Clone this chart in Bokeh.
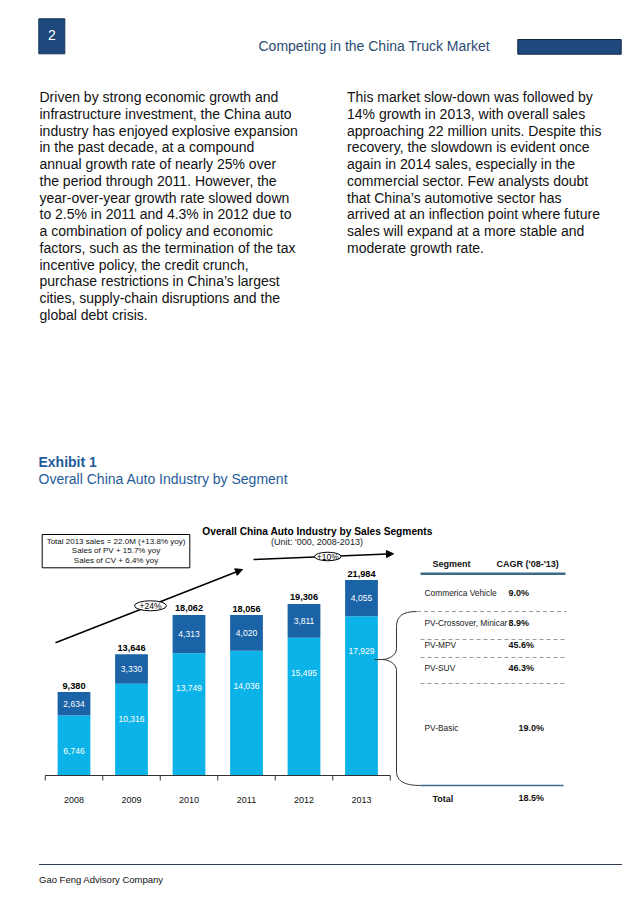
from bokeh.plotting import figure
from bokeh.models import Range1d, ColumnDataSource, Arrow, NormalHead
from bokeh.core.properties import value
from bokeh.embed import file_html
from bokeh.resources import INLINE

# ---------------- data ----------------
years = [2008, 2009, 2010, 2011, 2012, 2013]
pv_sales = [6746, 10316, 13749, 14036, 15495, 17929]   # passenger vehicles ('000)
cv_sales = [2634, 3330, 4313, 4020, 3811, 4055]        # commercial vehicles ('000)
segments = ["Commerica  Vehicle", "PV-Crossover, Minicar", "PV-MPV", "PV-SUV", "PV-Basic"]
segment_cagr = ["9.0%", "8.9%", "45.6%", "46.3%", "19.0%"]
total_cagr = "18.5%"
growth_labels = ["+24%", "+10%"]
note_lines = ["Total 2013 sales = 22.0M (+13.8% yoy)",
              "Sales of PV + 15.7% yoy",
              "Sales of CV + 6.4% yoy"]
left_para = [
    "Driven by strong economic growth and",
    "infrastructure investment, the China auto",
    "industry has enjoyed explosive expansion",
    "in the past decade, at a compound",
    "annual growth rate of nearly 25% over",
    "the period through 2011.  However, the",
    "year-over-year growth rate slowed down",
    "to 2.5% in 2011 and 4.3% in 2012 due to",
    "a combination of policy and economic",
    "factors, such as the termination of the tax",
    "incentive policy, the credit crunch,",
    "purchase restrictions in China\u2019s largest",
    "cities, supply-chain disruptions and the",
    "global debt crisis.",
]
right_para = [
    "This market slow-down was followed by",
    "14% growth in 2013, with overall sales",
    "approaching 22 million units.  Despite this",
    "recovery, the slowdown is evident once",
    "again in 2014 sales, especially in the",
    "commercial sector.  Few analysts doubt",
    "that China\u2019s automotive sector has",
    "arrived at an inflection point where future",
    "sales will expand at a more stable and",
    "moderate growth rate.",
]

# ---------------- styles ----------------
FONT = value("Liberation Sans")
PV_COLOR = "#0BB3E8"
CV_COLOR = "#1A63A6"
NAVY = "#1F497D"
BLUE_TXT = "#1F5C99"
STEEL = "#3D6B85"

totals = [a + b for a, b in zip(pv_sales, cv_sales)]

W, H = 622, 906
# page coordinates == screenshot pixels
p = figure(width=W, height=H, x_range=Range1d(0, W), y_range=Range1d(H, 0),
           x_axis_type=None, y_axis_type=None, output_backend="svg",
           toolbar_location=None, min_border=0)
p.outline_line_color = None
p.background_fill_color = "white"

# chart ranges: value 0 at y=775 px, 112.5 units per px; 2008 centred at x=73.5, 57.5 px per year
UPP = 112.5
p.extra_y_ranges = {"val": Range1d(-(H - 775) * UPP, 775 * UPP)}
PXY = 57.5
p.extra_x_ranges = {"yr": Range1d(2008 - 73.5 / PXY, 2008 + (W - 73.5) / PXY)}

def txt(x, y, t, size, color="#000000", align="left", bold=False, **kw):
    p.text(x=x, y=y, text=t, text_font=FONT, text_font_size=size, text_color=color,
           text_align=align, text_baseline="middle",
           text_font_style="bold" if bold else "normal", **kw)

# ---------------- header ----------------
p.quad(left=[38.3], right=[64.3], top=[18.3], bottom=[53.3], fill_color=NAVY, line_color="#16365C")
txt([51.5], [34.5], ["2"], "14px", "white", "center")
txt([258], [45.5], ["Competing in the China Truck Market"], "14px", "#2B4B72")
p.quad(left=[517.3], right=[620.7], top=[39], bottom=[53.7], fill_color=NAVY, line_color="#10253F")

# ---------------- body text ----------------
LS = 16.75
txt([39] * len(left_para), [96.5 + i * LS for i in range(len(left_para))], left_para, "14px", "#111111")
txt([346.5] * len(right_para), [96.5 + i * LS for i in range(len(right_para))], right_para, "14px", "#111111")

txt([38], [461], ["Exhibit 1"], "14px", BLUE_TXT, bold=True)
txt([38], [478], ["Overall China Auto Industry by Segment"], "14px", BLUE_TXT)

# ---------------- chart titles & note box ----------------
txt([317], [530.5], ["Overall China Auto Industry by Sales Segments"], "10.2px", "#000000", "center", bold=True)
txt([316.5], [541.5], ["(Unit: '000, 2008-2013)"], "9px", "#222222", "center")

p.quad(left=[41.7], right=[189.3], top=[534], bottom=[567.3], fill_color="white", line_color="#000000", line_width=1)
txt([115.5] * 3, [540.8, 550.3, 559.8], note_lines, "8px", "#111111", "center")

# growth arrows
p.add_layout(Arrow(end=NormalHead(size=7, fill_color="black", line_color="black"),
                   x_start=55, y_start=642.3, x_end=242, y_end=569,
                   line_width=1.5, line_color="black", level="underlay"))
p.add_layout(Arrow(end=NormalHead(size=7, fill_color="black", line_color="black"),
                   x_start=253, y_start=559, x_end=393, y_end=553.3,
                   line_width=1.5, line_color="black", level="underlay"))
p.ellipse(x=[150, 327.3], y=[605.3, 556], width=[32, 26.5], height=[10, 8.5],
          fill_color="white", line_color="black", line_width=1)
txt([150, 327.3], [605.5, 556.2], growth_labels, "8.5px", "#000000", "center")

# ---------------- stacked bars ----------------
src = ColumnDataSource(dict(year=years, pv=pv_sales, cv=cv_sales, total=totals,
                            pv_lbl=[f"{v:,}" for v in pv_sales],
                            cv_lbl=[f"{v:,}" for v in cv_sales],
                            tot_lbl=[f"{v:,}" for v in totals],
                            yr_lbl=[str(y) for y in years],
                            pv_y=[v - 35 * UPP for v in pv_sales],
                            cv_y=[a + b / 2 for a, b in zip(pv_sales, cv_sales)],
                            tot_y=[v + 6.5 * UPP for v in totals]))
R = dict(x_range_name="yr", y_range_name="val")
p.vbar(x="year", bottom=0, top="pv", width=0.57, fill_color=PV_COLOR, line_color=None, source=src, **R)
p.vbar(x="year", bottom="pv", top="total", width=0.57, fill_color=CV_COLOR, line_color=None, source=src, **R)

for col, lbl, size, color, bold in [("pv_y", "pv_lbl", "8.5px", "white", False),
                                    ("cv_y", "cv_lbl", "8.5px", "white", False),
                                    ("tot_y", "tot_lbl", "9.2px", "#000000", True)]:
    p.text(x="year", y=col, text=lbl, source=src, text_font=FONT, text_font_size=size,
           text_color=color, text_align="center", text_baseline="middle",
           text_font_style="bold" if bold else "normal", **R)

# category axis
bounds = [y - 0.5 for y in years] + [years[-1] + 0.5]
p.segment(x0=[bounds[0]], y0=[0], x1=[bounds[-1]], y1=[0], line_color="#333333", line_width=1, **R)
p.segment(x0=bounds, y0=[0] * len(bounds), x1=bounds, y1=[-5 * UPP] * len(bounds),
          line_color="#333333", line_width=1, **R)
p.text(x="year", y=-24 * UPP, text="yr_lbl", source=src, text_font=FONT,
       text_font_size="9px", text_color="#111111", text_align="center", text_baseline="middle", **R)

# ---------------- brace ----------------
BR = dict(line_color="#333333", line_width=1)
p.bezier(x0=[416, 396, 381, 396], y0=[611, 648, 659, 771],
         x1=[396, 381, 396, 420], y1=[626, 659, 670, 785],
         cx0=[402, 396, 388, 396], cy0=[611, 655, 659, 781],
         cx1=[396, 388, 396, 405], cy1=[616, 659, 663, 785], **BR)
p.segment(x0=[396, 396, 374], y0=[626, 670, 659], x1=[396, 396, 381], y1=[648, 771, 659], **BR)

# ---------------- CAGR table ----------------
txt([432], [563], ["Segment"], "9px", "#111111", bold=True)
txt([496], [563], ["CAGR ('08-'13)"], "9px", "#111111", bold=True)
p.segment(x0=[420], y0=[573.3], x1=[565], y1=[573.3], line_color=STEEL, line_width=2.5)

row_y = [592, 622, 644, 667.5, 727]
pct_x = [508, 508, 508, 508, 518]
txt([424] * len(segments), row_y, segments, "8.4px", "#222222")
txt(pct_x, row_y, segment_cagr, "9px", "#111111", bold=True)
p.segment(x0=[416.5, 420, 420, 420], y0=[611, 639, 657, 683],
          x1=[566, 566, 566, 566], y1=[611, 639, 657, 683],
          line_color="#9A9A9A", line_width=1, line_dash="4 3")
p.segment(x0=[420], y0=[785], x1=[563], y1=[785], line_color=STEEL, line_width=1.5)
txt([432], [798], ["Total"], "9px", "#111111", bold=True)
txt([518], [797], [total_cagr], "9px", "#111111", bold=True)

# ---------------- footer ----------------
p.segment(x0=[38.5], y0=[864], x1=[622], y1=[864], line_color="#2F3F4F", line_width=1)
txt([38.5], [879], ["Gao Feng Advisory Company"], "9.5px", "#111111")

open("out.html", "w").write(file_html(p, INLINE))
